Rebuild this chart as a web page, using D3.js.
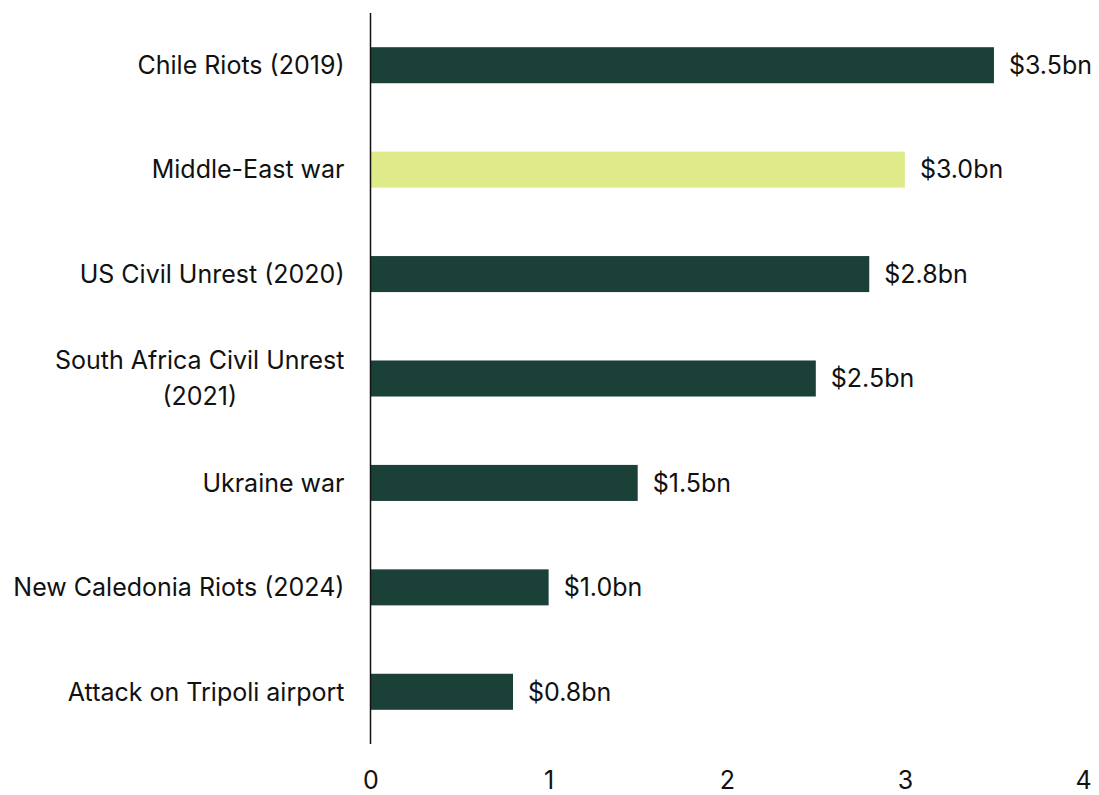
<!DOCTYPE html>
<html>
<head>
<meta charset="utf-8">
<script src="https://cdn.jsdelivr.net/npm/d3@7"></script>
<style>
  body { margin: 0; background: #fff; }
  text { font-family: Inter, "Noto Sans", sans-serif; fill: #111; }
</style>
</head>
<body>
<div id="chart"></div>
<script>
// data
const categories = [
  ["Chile Riots (2019)"],
  ["Middle-East war"],
  ["US Civil Unrest (2020)"],
  ["South Africa Civil Unrest", "(2021)"],
  ["Ukraine war"],
  ["New Caledonia Riots (2024)"],
  ["Attack on Tripoli airport"]
];
const values = [3.5, 3.0, 2.8, 2.5, 1.5, 1.0, 0.8];
const valueLabels = ["$3.5bn", "$3.0bn", "$2.8bn", "$2.5bn", "$1.5bn", "$1.0bn", "$0.8bn"];
const highlighted = ["Middle-East war"];
const xTicks = [0, 1, 2, 3, 4];

const W = 1099, H = 795;
const margin = { top: 13, right: 16, bottom: 51, left: 370.5 };
const width = W - margin.left - margin.right,
  height = H - margin.top - margin.bottom;
const fontSize = "25px";

const svg = d3.select("#chart").append("svg")
  .attr("width", W).attr("height", H)
  .append("g")
  .attr("transform", `translate(${margin.left},${margin.top})`);

const rows = categories.map((c, i) => ({ key: c.join(" "), lines: c, value: values[i], label: valueLabels[i] }));

const x = d3.scaleLinear().domain([0, 4]).range([0, 712.5]);
const y = d3.scaleBand().domain(rows.map(d => d.key)).range([0, height]).paddingInner(0.655).paddingOuter(0.3275);

// bars
svg.selectAll("rect.bar")
  .data(rows)
  .join("rect")
  .attr("class", "bar")
  .attr("x", x(0))
  .attr("y", d => y(d.key))
  .attr("width", d => x(d.value) - x(0))
  .attr("height", y.bandwidth())
  .attr("fill", d => highlighted.includes(d.key) ? "#dfeb8a" : "#1a4038");

// value labels
svg.selectAll("text.val")
  .data(rows)
  .join("text")
  .attr("class", "val")
  .attr("x", d => x(d.value) + 15)
  .attr("y", d => y(d.key) + y.bandwidth() / 2)
  .attr("dy", "0.35em")
  .style("font-size", fontSize)
  .text(d => d.label);

// category labels
const cat = svg.selectAll("text.cat")
  .data(rows)
  .join("text")
  .attr("class", "cat")
  .attr("y", d => y(d.key) + y.bandwidth() / 2 - (d.lines.length - 1) * 18)
  .style("font-size", fontSize);

cat.each(function (d) {
  const t = d3.select(this);
  if (d.lines.length === 1) {
    t.append("tspan").attr("x", -26).attr("dy", "0.35em").attr("text-anchor", "end").text(d.lines[0]);
  } else {
    // multi-line labels are centred under the widest line
    t.attr("text-anchor", "middle");
    const first = t.append("tspan").attr("x", 0).attr("dy", "0.35em").text(d.lines[0]);
    const w = first.node().getComputedTextLength();
    const cx = -26 - w / 2;
    first.attr("x", cx);
    d.lines.slice(1).forEach(l => t.append("tspan").attr("x", cx).attr("dy", 36).text(l));
  }
});

// y axis line
svg.append("line")
  .attr("x1", 0).attr("x2", 0)
  .attr("y1", 0).attr("y2", height)
  .attr("stroke", "#111").attr("stroke-width", 1.5);

// x axis labels, no line
const xAxis = d3.axisBottom(x).tickValues(xTicks).tickSize(0).tickPadding(0).tickFormat(d3.format("d"));
const xg = svg.append("g").attr("transform", `translate(0,${height})`).call(xAxis);
xg.select(".domain").remove();
xg.selectAll("text")
  .attr("y", 36)
  .attr("dy", "0.35em")
  .style("font-size", fontSize)
  .style("font-family", "Inter, 'Noto Sans', sans-serif")
  .attr("fill", "#111");
</script>
</body>
</html>
